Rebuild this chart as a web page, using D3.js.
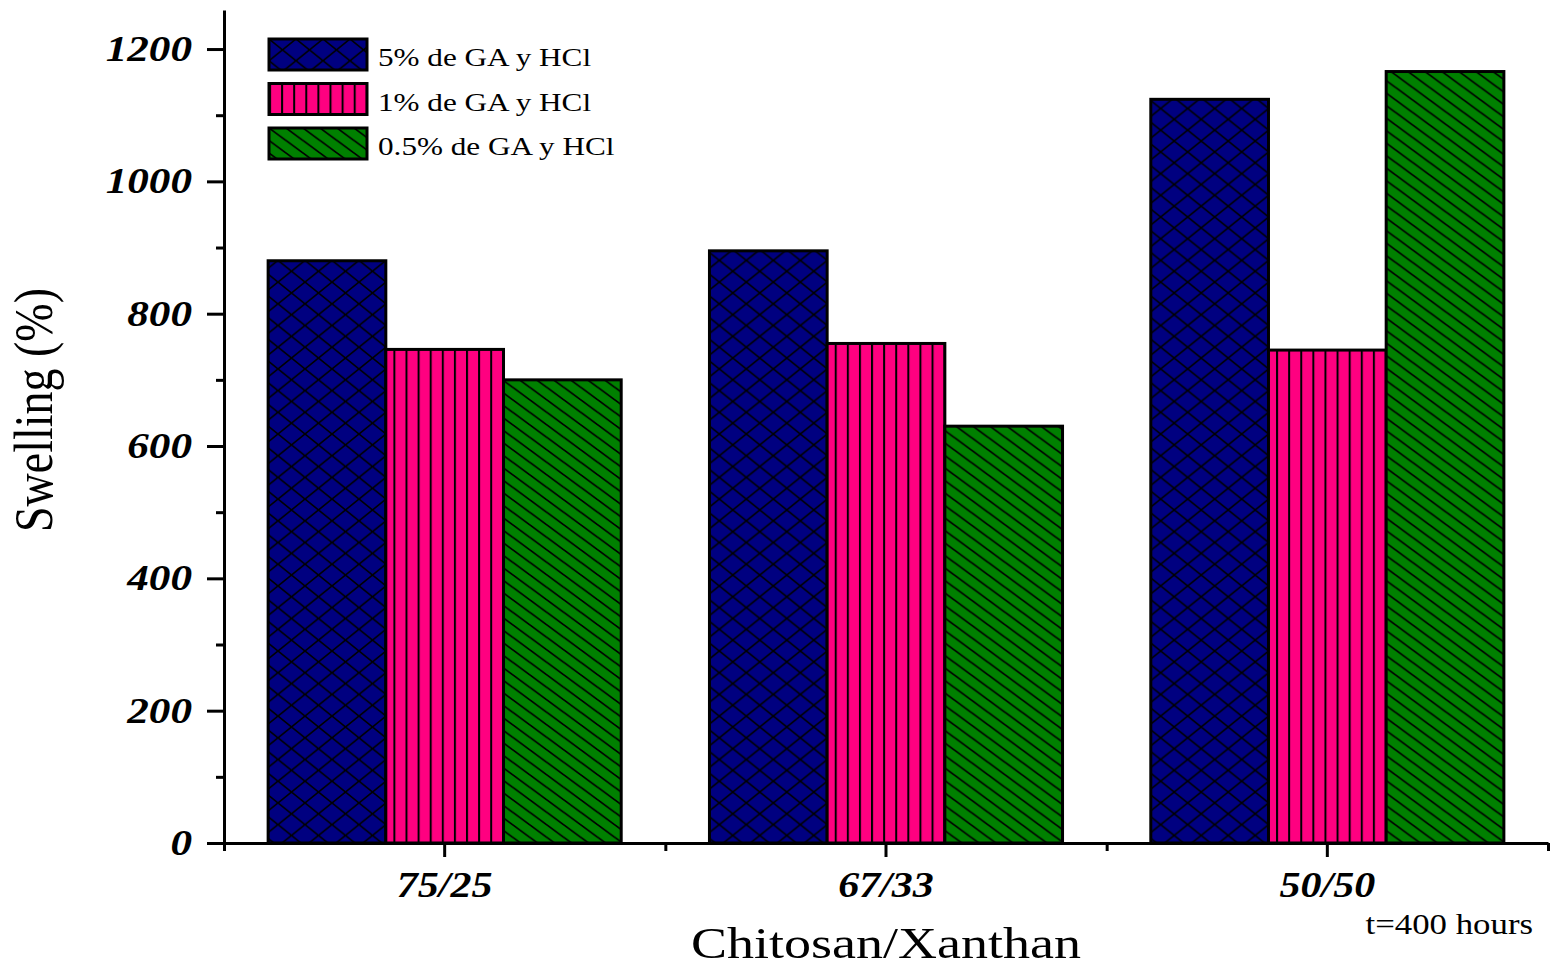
<!DOCTYPE html>
<html>
<head>
<meta charset="utf-8">
<script src="https://cdn.jsdelivr.net/npm/d3@7"></script>
<style>
  body { margin: 0; background: #fff; }
  text { font-family: "Liberation Serif", "Times New Roman", serif; }
</style>
</head>
<body>
<div id="chart"></div>
<script>
// data
const categories = ["75/25", "67/33", "50/50"];
const seriesNames = ["5% de GA y HCl", "1% de GA y HCl", "0.5% de GA y HCl"];
const ga5 = [880, 895, 1124];
const ga1 = [746, 755, 745];
const ga05 = [700, 630, 1166];
const yMajor = [0, 200, 400, 600, 800, 1000, 1200];
const yMinor = [100, 300, 500, 700, 900, 1100];

const fills = ["#000080", "#ff0080", "#008000"];
const patternIds = ["hatchCross", "hatchVert", "hatchDiag"];

const W = 1554, H = 970;
const sx = 1.2; // the picture is a bit wider than tall, text is stretched

const svg = d3.select("#chart")
    .append("svg")
    .attr("width", W)
    .attr("height", H);

svg.append("rect").attr("width", W).attr("height", H).attr("fill", "#fff");

// patterns
const defs = svg.append("defs");

// cross hatch (blue)
const pc = defs.append("pattern")
    .attr("id", patternIds[0])
    .attr("patternUnits", "userSpaceOnUse")
    .attr("width", 27).attr("height", 21.7);
pc.append("rect").attr("width", 27).attr("height", 21.7).attr("fill", fills[0]);
pc.append("path")
    .attr("d", "M-2.7,-2.17L29.7,23.87M-2.7,23.87L29.7,-2.17")
    .attr("stroke", "#000").attr("stroke-width", 1.6);

// vertical lines (pink)
const pv = defs.append("pattern")
    .attr("id", patternIds[1])
    .attr("patternUnits", "userSpaceOnUse")
    .attr("width", 12.1).attr("height", 10);
pv.append("rect").attr("width", 12.1).attr("height", 10).attr("fill", fills[1]);
pv.append("path")
    .attr("d", "M1,0L1,10")
    .attr("stroke", "#000").attr("stroke-width", 2);

// diagonal lines (green)
const pd = defs.append("pattern")
    .attr("id", patternIds[2])
    .attr("patternUnits", "userSpaceOnUse")
    .attr("width", 17).attr("height", 12.5);
pd.append("rect").attr("width", 17).attr("height", 12.5).attr("fill", fills[2]);
pd.append("path")
    .attr("d", "M-1.7,-1.25L18.7,13.75M-18.7,-1.25L1.7,13.75M15.3,-1.25L35.7,13.75")
    .attr("stroke", "#000").attr("stroke-width", 1.7);

// scales
const x = d3.scaleBand()
    .domain(categories)
    .range([224, 1548])
    .padding(0);

const xSub = d3.scaleBand()
    .domain(seriesNames)
    .range([x.bandwidth() * 0.1, x.bandwidth() * 0.9])
    .padding(0);

const y = d3.scaleLinear()
    .domain([0, 1259])
    .range([843, 10]);

const rows = categories.map((c, i) => ({
    cat: c,
    vals: [ga5[i], ga1[i], ga05[i]]
}));

// bars
const groups = svg.selectAll(".group")
    .data(rows)
    .enter().append("g")
    .attr("class", "group")
    .attr("transform", d => "translate(" + x(d.cat) + ",0)");

groups.selectAll("rect")
    .data(d => d.vals.map((v, j) => ({ name: seriesNames[j], v: v, j: j })))
    .enter().append("rect")
    .attr("x", d => xSub(d.name))
    .attr("width", xSub.bandwidth())
    .attr("y", d => y(d.v))
    .attr("height", d => y(0) - y(d.v))
    .attr("fill", d => "url(#" + patternIds[d.j] + ")")
    .attr("stroke", "#000")
    .attr("stroke-width", 3);

// y axis
const yAxis = svg.append("g")
    .attr("transform", "translate(224,0)")
    .call(d3.axisLeft(y)
        .tickValues(yMajor)
        .tickSize(17)
        .tickSizeOuter(0)
        .tickPadding(15)
        .tickFormat(d3.format("d")));

svg.append("g")
    .attr("transform", "translate(224,0)")
    .call(d3.axisLeft(y).tickValues(yMinor).tickSize(8).tickSizeOuter(0).tickFormat(""))
    .select(".domain").remove();

// x axis
const xAxis = svg.append("g")
    .attr("transform", "translate(0,843)")
    .call(d3.axisBottom(x).tickSize(14).tickSizeOuter(0).tickPadding(15));

const xEdge = d3.scaleLinear().domain([0, categories.length]).range(x.range());
svg.append("g")
    .attr("transform", "translate(0,843)")
    .call(d3.axisBottom(xEdge).tickValues(d3.range(categories.length + 1)).tickSize(8).tickSizeOuter(0).tickFormat(""))
    .select(".domain").remove();

svg.selectAll(".domain, .tick line")
    .attr("stroke", "#000")
    .attr("stroke-width", 3);

svg.selectAll(".tick text")
    .attr("fill", "#000")
    .style("font-weight", "bold")
    .style("font-style", "italic")
    .style("font-family", "'Liberation Serif', 'Times New Roman', serif");

yAxis.selectAll("text")
    .style("font-size", "36px")
    .attr("x", function () { return +this.getAttribute("x") / sx; })
    .attr("transform", "scale(" + sx + ",1)");

xAxis.selectAll("text")
    .style("font-size", "35px")
    .attr("transform", "scale(" + sx + ",1)");

// axis titles
svg.append("text")
    .attr("transform", "translate(52,410) scale(" + sx + ",1) rotate(-90)")
    .attr("text-anchor", "middle")
    .style("font-size", "46px")
    .text("Swelling (%)");

svg.append("text")
    .attr("transform", "translate(886,958) scale(" + sx + ",1)")
    .attr("text-anchor", "middle")
    .style("font-size", "45px")
    .text("Chitosan/Xanthan");

svg.append("text")
    .attr("transform", "translate(1533,934) scale(" + sx + ",1)")
    .attr("text-anchor", "end")
    .style("font-size", "29px")
    .text("t=400 hours");

// legend
const legend = svg.append("g")
    .attr("class", "legend")
    .attr("transform", "translate(269,39)");

const legendItems = legend.selectAll(".legend-item")
    .data(seriesNames)
    .enter().append("g")
    .attr("class", "legend-item")
    .attr("transform", (d, i) => "translate(0," + (i * 44.5) + ")");

legendItems.append("rect")
    .attr("width", 98)
    .attr("height", 31)
    .attr("fill", (d, i) => "url(#" + patternIds[i] + ")")
    .attr("stroke", "#000")
    .attr("stroke-width", 3);

legendItems.append("text")
    .attr("transform", "translate(109,27) scale(" + sx + ",1)")
    .style("font-size", "26px")
    .text(d => d);
</script>
</body>
</html>
